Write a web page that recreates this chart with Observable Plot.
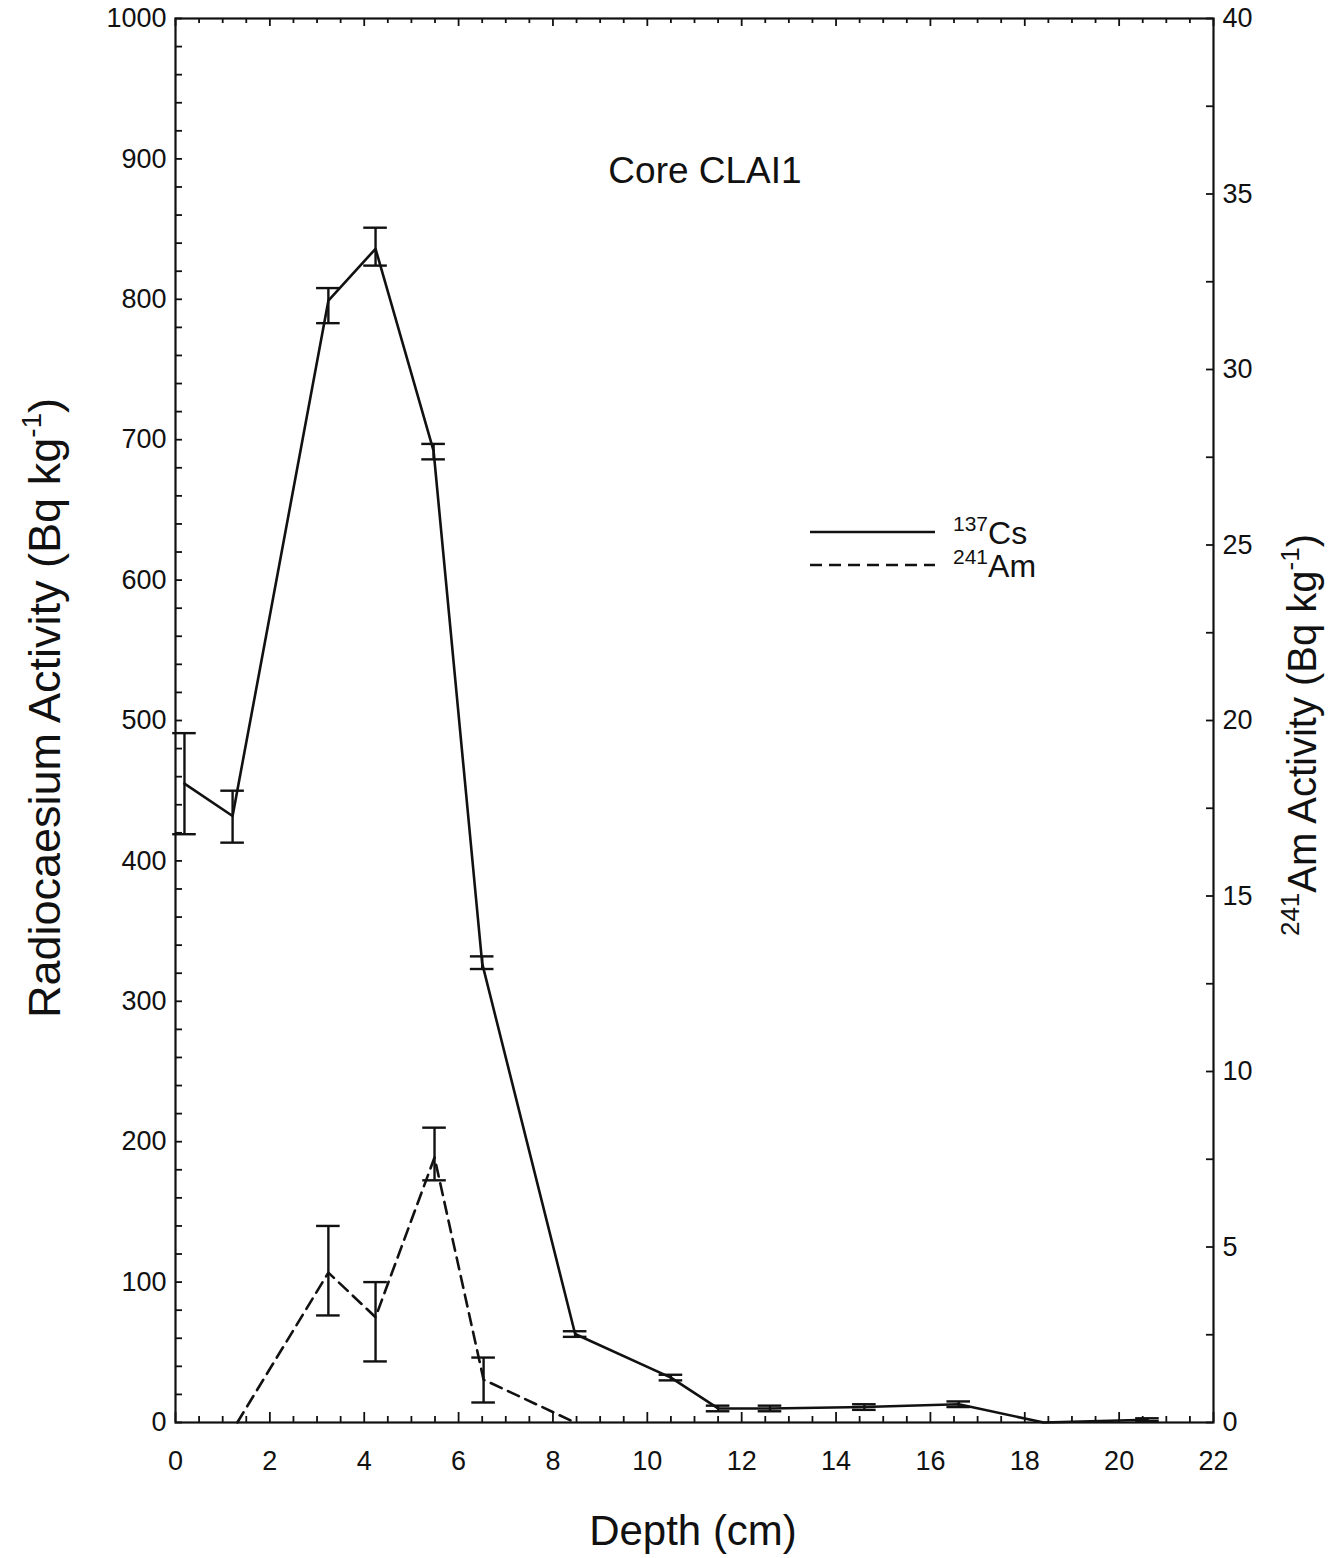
<!DOCTYPE html>
<html>
<head>
<meta charset="utf-8">
<script src="https://cdn.jsdelivr.net/npm/d3@7"></script>
<script src="https://cdn.jsdelivr.net/npm/@observablehq/plot@0.6"></script>
<style>
  html, body { margin: 0; padding: 0; background: #fff; }
  #chart { position: relative; width: 1338px; height: 1558px; }
  svg text { font-family: "Liberation Sans", Arial, sans-serif; }
</style>
</head>
<body>
<div id="chart"></div>
<script>
// ---- Data ----
const csDepth = [0.19, 1.21, 3.24, 4.24, 5.47, 6.5, 8.47, 10.5, 11.5, 12.6, 14.6, 16.6, 18.4, 20.6];
const csValue = [455, 432, 799, 836, 692, 327, 63, 32, 10, 10, 11, 13, 0, 2];
const csLow   = [419, 413, 783, 824, 686, 323, 61, 30, 8, 8, 9, 11, 0, 1];
const csHigh  = [491, 450, 808, 851, 697, 332, 65, 34, 12, 12, 13, 15, 0, 3];

const amDepth = [1.31, 3.24, 4.24, 5.49, 6.53, 8.47];
const amValue = [0, 4.27, 3.0, 7.55, 1.22, 0];
const amLow   = [null, 3.05, 1.74, 6.9, 0.57, null];
const amHigh  = [null, 5.6, 4.0, 8.4, 1.85, null];

const xTickLabels = [0, 2, 4, 6, 8, 10, 12, 14, 16, 18, 20, 22];
const yTickLabels = [0, 100, 200, 300, 400, 500, 600, 700, 800, 900, 1000];
const amTickLabels = [0, 5, 10, 15, 20, 25, 30, 35, 40];
const amPerCs = 40 / 1000; // right axis 0-40 spans left axis 0-1000

// ---- Build tables ----
const cs = csDepth.map((d, i) => ({depth: d, v: csValue[i], lo: csLow[i], hi: csHigh[i]}));
const am = amDepth.map((d, i) => ({depth: d, v: amValue[i] / amPerCs,
  lo: amLow[i] == null ? null : amLow[i] / amPerCs, hi: amHigh[i] == null ? null : amHigh[i] / amPerCs}));
const amBars = am.filter(d => d.lo != null);
const csBars = cs.filter(d => d.hi > d.lo);

const W = 1338, H = 1558, ml = 175, mr = 125, mt = 18, mb = 136;
const fw = W - ml - mr, fh = H - mt - mb;

const xMinor = d3.range(0, 22.001, 0.5).filter(v => v % 2 !== 0);
const xMajor = xTickLabels;
const yMinor = d3.range(0, 1000.001, 20);
const rMinor = d3.range(0, 40.001, 2.5).map(v => v / amPerCs);
const capHalf = 0.25;

const plot = Plot.plot({
  width: W, height: H,
  marginLeft: ml, marginRight: mr, marginTop: mt, marginBottom: mb,
  style: {fontFamily: "Liberation Sans, Arial, sans-serif", fontSize: "27px", color: "#111", background: "#fff"},
  x: {domain: [0, 22], label: null},
  y: {domain: [0, 1000], label: null},
  marks: [
    // inward ticks
    Plot.ruleX(xMinor, {x: d => d, insetTop: fh - 6, stroke: "#111", strokeWidth: 1.8}),
    Plot.ruleX(xMajor, {x: d => d, insetTop: fh - 10, stroke: "#111", strokeWidth: 1.8}),
    Plot.ruleX(xMinor, {x: d => d, insetBottom: fh - 5, stroke: "#111", strokeWidth: 1.8}),
    Plot.ruleX(xMajor, {x: d => d, insetBottom: fh - 8, stroke: "#111", strokeWidth: 1.8}),
    Plot.ruleY(yMinor, {y: d => d, insetRight: fw - 7, stroke: "#111", strokeWidth: 1.8}),
    Plot.ruleY(rMinor, {y: d => d, insetLeft: fw - 7, stroke: "#111", strokeWidth: 1.8}),
    Plot.frame({stroke: "#111", strokeWidth: 2.2}),
    // axes labels
    Plot.axisX({anchor: "bottom", ticks: xTickLabels, tickFormat: d3.format("d"), tickSize: 0, tickPadding: 28, label: null}),
    Plot.axisY({anchor: "left", ticks: yTickLabels, tickFormat: d3.format("d"), tickSize: 0, tickPadding: 9, label: null}),
    Plot.axisY({anchor: "right", ticks: amTickLabels.map(v => v / amPerCs), tickFormat: d => Math.round(d * amPerCs), tickSize: 0, tickPadding: 9, label: null}),
    // 137Cs
    Plot.ruleX(csBars, {x: "depth", y1: "lo", y2: "hi", stroke: "#111", strokeWidth: 2.4}),
    Plot.ruleY(csBars, {y: "lo", x1: d => d.depth - capHalf, x2: d => d.depth + capHalf, stroke: "#111", strokeWidth: 2.4}),
    Plot.ruleY(csBars, {y: "hi", x1: d => d.depth - capHalf, x2: d => d.depth + capHalf, stroke: "#111", strokeWidth: 2.4}),
    Plot.line(cs, {x: "depth", y: "v", stroke: "#111", strokeWidth: 2.6}),
    // 241Am
    Plot.ruleX(amBars, {x: "depth", y1: "lo", y2: "hi", stroke: "#111", strokeWidth: 2.4}),
    Plot.ruleY(amBars, {y: "lo", x1: d => d.depth - capHalf, x2: d => d.depth + capHalf, stroke: "#111", strokeWidth: 2.4}),
    Plot.ruleY(amBars, {y: "hi", x1: d => d.depth - capHalf, x2: d => d.depth + capHalf, stroke: "#111", strokeWidth: 2.4}),
    Plot.line(am, {x: "depth", y: "v", stroke: "#111", strokeWidth: 2.6, strokeDasharray: "12,7"})
  ]
});

document.getElementById("chart").appendChild(plot);

// ---- Titles, annotation and legend ----
const svg = d3.select(plot);
const ff = "Liberation Sans, Arial, sans-serif";

svg.append("text").attr("x", 693).attr("y", 1545).attr("text-anchor", "middle")
  .attr("font-size", 42).attr("fill", "#111").attr("font-family", ff).text("Depth (cm)");

svg.append("text").attr("x", 705).attr("y", 183).attr("text-anchor", "middle")
  .attr("font-size", 37).attr("fill", "#111").attr("font-family", ff).text("Core CLAI1");

const lt = svg.append("text").attr("transform", "translate(60,708) rotate(-90)")
  .attr("text-anchor", "middle").attr("font-size", 45).attr("fill", "#111").attr("font-family", ff);
lt.append("tspan").text("Radiocaesium Activity (Bq kg");
lt.append("tspan").attr("font-size", 28).attr("dy", -19).text("-1");
lt.append("tspan").attr("dy", 19).text(")");

const rt = svg.append("text").attr("transform", "translate(1316,735) rotate(-90)")
  .attr("text-anchor", "middle").attr("font-size", 40).attr("fill", "#111").attr("font-family", ff);
rt.append("tspan").attr("font-size", 26).attr("dy", -17).text("241");
rt.append("tspan").attr("dy", 17).text("Am Activity (Bq kg");
rt.append("tspan").attr("font-size", 26).attr("dy", -17).text("-1");
rt.append("tspan").attr("dy", 17).text(")");

const lg = svg.append("g").attr("text-anchor", "start");
lg.append("line").attr("x1", 810).attr("x2", 935).attr("y1", 532).attr("y2", 532)
  .attr("stroke", "#111").attr("stroke-width", 2.6);
lg.append("line").attr("x1", 810).attr("x2", 935).attr("y1", 565).attr("y2", 565)
  .attr("stroke", "#111").attr("stroke-width", 2.6).attr("stroke-dasharray", "12,7");
const l1 = lg.append("text").attr("x", 953).attr("y", 544).attr("text-anchor", "start").attr("font-size", 32).attr("fill", "#111").attr("font-family", ff);
l1.append("tspan").attr("font-size", 21).attr("dy", -13).text("137");
l1.append("tspan").attr("dy", 13).text("Cs");
const l2 = lg.append("text").attr("x", 953).attr("y", 577).attr("text-anchor", "start").attr("font-size", 32).attr("fill", "#111").attr("font-family", ff);
l2.append("tspan").attr("font-size", 21).attr("dy", -13).text("241");
l2.append("tspan").attr("dy", 13).text("Am");
</script>
</body>
</html>
